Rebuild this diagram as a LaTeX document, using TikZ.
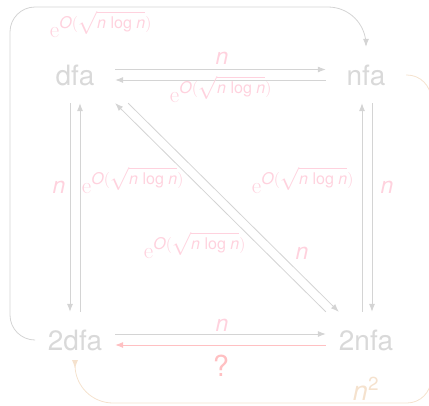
\RequirePackage{fix-cm}
\documentclass[tikz,border=0pt]{standalone}
\usepackage{amsmath}
\usepackage{fontspec}
\setsansfont{TeX Gyre Heros}
\renewcommand{\familydefault}{\sfdefault}
\usepackage{tikz}
\usetikzlibrary{arrows.meta, positioning}
\definecolor{NodeGray}{RGB}{217, 217, 217}
\definecolor{ArrowGray}{RGB}{212, 212, 212}
\definecolor{LabelPink}{RGB}{255, 210, 222}
\definecolor{OpenPink}{RGB}{255, 192, 194}
\definecolor{LoopBeige}{RGB}{245, 226, 206}

\newcommand{\vn}{\textit{n}}
\newcommand{\eroot}{$\mathrm{e}^{\text{\itshape O}(\sqrt{\text{\itshape n \upshape log \itshape n}})}$}

\begin{document}
\begin{tikzpicture}[
    x=1pt, y=-1pt,
    font=\fontsize{28}{32}\selectfont,
    >={Latex[length=8pt, width=6pt]},
    automaton/.style = {
        text=NodeGray, minimum width=80pt, minimum height=56pt,
        inner sep=0pt
    },
    conv/.style = {->, line width=0.8pt, draw=ArrowGray},
    openconv/.style = {->, line width=0.8pt, draw=OpenPink},
    loopconv/.style = {->, line width=0.8pt, draw=LoopBeige},
    cost/.style = {text=LabelPink, font=\fontsize{23}{25}\selectfont, inner sep=0pt, anchor=base},
    loopcost/.style = {text=LoopBeige, font=\fontsize{27}{29}\selectfont, inner sep=0pt, anchor=base}
]
\useasboundingbox (0,0) rectangle (429,405);

% ===== AUTOMATA =====
\node[automaton] (dfa)  at (75,75)   {dfa};
\node[automaton] (nfa)  at (366,75)  {nfa};
\node[automaton] (tdfa) at (75,340)  {2dfa};
\node[automaton] (tnfa) at (366,340) {2nfa};

% ===== TOP PAIR =====
\draw[conv] ([yshift=5.5pt]dfa.east) -- ([yshift=5.5pt]nfa.west);
\draw[conv] ([yshift=-5pt]nfa.west) -- ([yshift=-5pt]dfa.east);
\node[cost] (ctop)  at (222,64)  {\vn};
\node[cost] (ctopr) at (221,102) {\eroot};

% ===== LEFT PAIR =====
\draw[conv] ([xshift=-5pt]dfa.south) -- ([xshift=-5pt]tdfa.north);
\draw[conv] ([xshift=5pt]tdfa.north) -- ([xshift=5pt]dfa.south);
\node[cost] (cleft)  at (59,193)  {\vn};
\node[cost] (cleftr) at (133,193) {\eroot};

% ===== RIGHT PAIR =====
\draw[conv] ([xshift=-4pt]tnfa.north) -- ([xshift=-4pt]nfa.south);
\draw[conv] ([xshift=6pt]nfa.south) -- ([xshift=6pt]tnfa.north);
\node[cost] (crightr) at (303,193) {\eroot};
\node[cost] (cright)  at (387,193) {\vn};

% ===== DIAGONAL PAIR =====
\draw[conv] (tnfa.north west) -- (dfa.south east);
\draw[conv] ([xshift=13pt]dfa.south east) -- ([xshift=13pt]tnfa.north west);
\node[cost] (cdiagr) at (195,258) {\eroot};
\node[cost] (cdiag)  at (302,259) {\vn};

% ===== BOTTOM PAIR =====
\draw[conv] ([yshift=6pt]tdfa.east) -- ([yshift=6pt]tnfa.west);
\draw[openconv] ([yshift=-5pt]tnfa.west) -- ([yshift=-5pt]tdfa.east);
\node[cost] (cbottom) at (222,331) {\vn};
\node[cost, text=OpenPink, font=\fontsize{29}{31}\selectfont] (cquery) at (221,376) {?};

% ===== OUTER LOOPS =====
\coordinate (outerleft) at (10,7);
\draw[conv] (tdfa.west) [rounded corners=25pt] -| (outerleft)
    [rounded corners=38pt] -- (nfa.north |- outerleft)
    [rounded corners=17pt] -- (nfa.north);
\node[cost] (couter) at (101,37) {\eroot};

\coordinate (outerright) at (431,403);
\draw[loopconv] (nfa.east) [rounded corners=24pt] -| (outerright)
    [rounded corners=38pt] -| (tdfa.south);
\node[loopcost] (csquare) at (366,400) {\vn\textsuperscript{2}};
\end{tikzpicture}
\end{document}
